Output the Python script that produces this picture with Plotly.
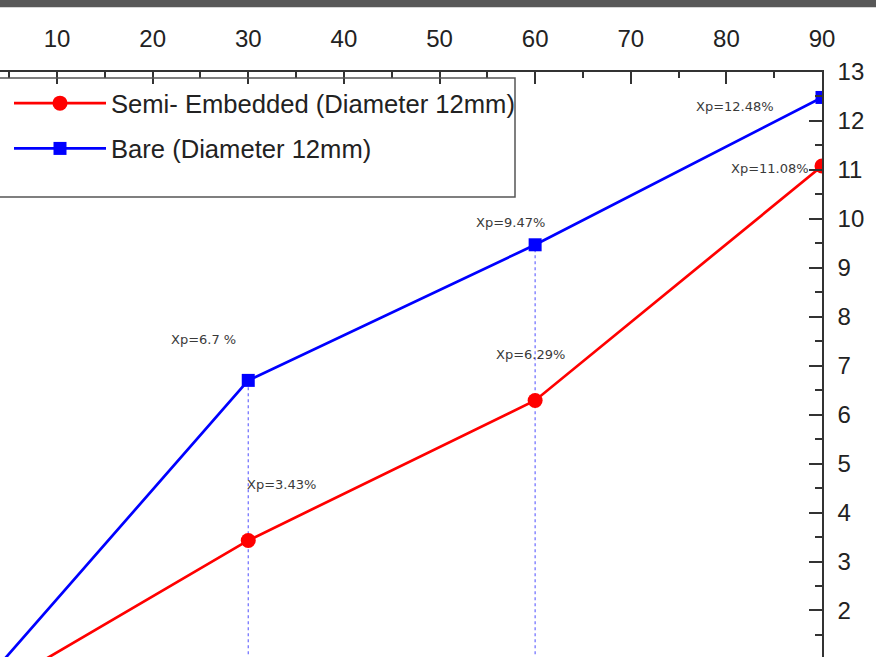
import plotly.graph_objects as go

# Data
x_vals = [0, 30, 60, 90]
semi_embedded = [0, 3.43, 6.29, 11.08]
bare = [0, 6.7, 9.47, 12.48]
guide_x = [30, 60]
guide_top = [6.7, 9.47]
label_texts = ["Xp=6.7 %", "Xp=3.43%", "Xp=9.47%", "Xp=6.29%", "Xp=12.48%", "Xp=11.08%"]
label_x = [25.3, 33.5, 57.4, 59.5, 80.9, 84.6]
label_y = [7.53, 4.58, 9.93, 7.22, 12.30, 11.03]
x_ticks = [10, 20, 30, 40, 50, 60, 70, 80, 90]
y_ticks = list(range(1, 14))

TOP = 72
PH = 585

fig = go.Figure()

for gx, gt in zip(guide_x, guide_top):
    fig.add_trace(go.Scatter(x=[gx, gx], y=[0, gt], mode="lines",
                             line=dict(color="rgba(80,80,255,0.85)", width=1.2, dash="3px,3px"),
                             showlegend=False, hoverinfo="skip"))

fig.add_trace(go.Scatter(x=x_vals, y=semi_embedded, mode="lines+markers",
                         name="Semi- Embedded (Diameter 12mm)", legendgroup="a",
                         line=dict(color="#ff0000", width=2.7),
                         marker=dict(symbol="circle", size=15, color="#ff0000")))
fig.add_trace(go.Scatter(x=x_vals, y=bare, mode="lines+markers",
                         name="Bare (Diameter 12mm)", legendgroup="b",
                         line=dict(color="#0000ff", width=2.7),
                         marker=dict(symbol="square", size=13, color="#0000ff")))

for t, ax_, ay_ in zip(label_texts, label_x, label_y):
    fig.add_annotation(x=ax_, y=ay_, text=t, showarrow=False, xref="x", yref="y",
                       font=dict(family="DejaVu Sans", size=13, color="#3a3a3a"))

# top dark band
fig.add_shape(type="rect", xref="paper", yref="paper", x0=-0.1, x1=1.2,
              y0=1 + (TOP - 7.3) / PH, y1=1.2, fillcolor="#585858", line_width=0, layer="above")
# legend frame
fig.add_shape(type="rect", xref="paper", yref="paper", x0=-0.05, x1=515 / 822,
              y0=1 - (197 - TOP) / PH, y1=1 - (78 - TOP) / PH,
              line=dict(color="#555555", width=1.5), fillcolor="rgba(0,0,0,0)", layer="above")

fig.update_layout(
    width=876, height=657,
    margin=dict(l=0, r=54, t=TOP, b=0),
    paper_bgcolor="white", plot_bgcolor="white",
    font=dict(family="Liberation Sans, Arial", color="#222222"),
    legend=dict(x=520 / 822, xanchor="right", y=1 - 8 / PH, yanchor="top",
                borderwidth=0, bgcolor="rgba(0,0,0,0)",
                font=dict(size=25.6, color="#222222"), itemwidth=92,
                traceorder="grouped", tracegroupgap=9),
    xaxis=dict(side="top", range=[10 - 57 / 9.5625, 90], tickvals=x_ticks,
               showline=True, linecolor="#333333", linewidth=1.5,
               ticks="inside", ticklen=12, tickwidth=1.5, tickcolor="#333333",
               minor=dict(dtick=5, tick0=0, ticks="inside", ticklen=6, tickwidth=1.5, tickcolor="#333333"),
               showgrid=False, zeroline=False, tickfont=dict(size=24, color="#222222"),
               ticklabelstandoff=14),
    yaxis=dict(side="right", range=[13 - PH / 48.95, 13], tickvals=y_ticks,
               showline=True, linecolor="#333333", linewidth=1.5,
               ticks="inside", ticklen=13, tickwidth=1.5, tickcolor="#333333",
               minor=dict(dtick=0.5, tick0=0, ticks="inside", ticklen=7, tickwidth=1.5, tickcolor="#333333"),
               showgrid=False, zeroline=False, tickfont=dict(size=24, color="#222222"),
               ticklabelstandoff=9),
)

fig.write_html("out.html")
